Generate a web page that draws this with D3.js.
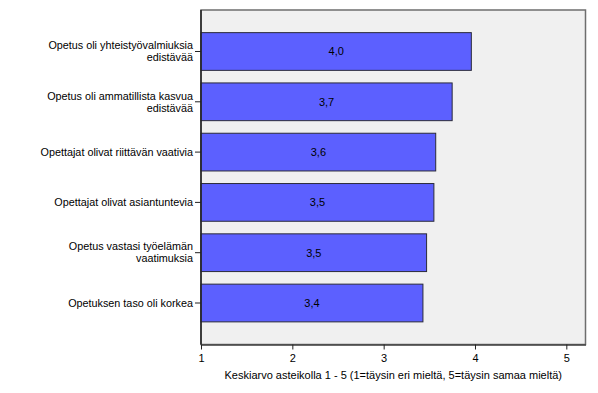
<!DOCTYPE html>
<html>
<head>
<meta charset="utf-8">
<script src="https://cdn.jsdelivr.net/npm/d3@7"></script>
<style>
  body { margin: 0; background: #fff; }
  svg { display: block; font-family: Arial, "Liberation Sans", sans-serif; }
</style>
</head>
<body>
<div id="chart"></div>
<script>
// kysymykset ja keskiarvot
var categories = [
  ["Opetus oli yhteistyövalmiuksia", "edistävää"],
  ["Opetus oli ammatillista kasvua", "edistävää"],
  ["Opettajat olivat riittävän vaativia"],
  ["Opettajat olivat asiantuntevia"],
  ["Opetus vastasi työelämän", "vaatimuksia"],
  ["Opetuksen taso oli korkea"]
];
var means = [3.96, 3.75, 3.57, 3.55, 3.47, 3.43];
var valueLabels = ["4,0", "3,7", "3,6", "3,5", "3,5", "3,4"];
var xTicks = [1, 2, 3, 4, 5];
var xTitle = "Keskiarvo asteikolla 1 - 5 (1=täysin eri mieltä, 5=täysin samaa mieltä)";

var width = 598, height = 393;
var plotLeft = 201, plotRight = 585.5, plotTop = 10, plotBottom = 344.5;

var svg = d3.select('#chart').append('svg')
  .attr('width', width)
  .attr('height', height);

var x = d3.scaleLinear()
  .domain([1, 5.21])
  .range([plotLeft, plotRight]);

var y = d3.scaleBand()
  .domain(d3.range(categories.length))
  .range([plotTop, plotBottom])
  .paddingInner(0.25)
  .paddingOuter(0.45);

// taustakehys
svg.append('rect')
  .attr('x', plotLeft)
  .attr('y', plotTop)
  .attr('width', plotRight - plotLeft)
  .attr('height', plotBottom - plotTop)
  .attr('fill', '#f0f0f0')
  .attr('stroke', '#6e6e6e')
  .attr('stroke-width', 1.5);

var bars = svg.selectAll('.bar')
  .data(means)
  .enter().append('g');

bars.append('rect')
  .attr('x', x(1))
  .attr('y', function (d, i) { return y(i); })
  .attr('width', function (d) { return x(d) - x(1); })
  .attr('height', y.bandwidth())
  .attr('fill', '#5c60ff')
  .attr('stroke', '#2b2b3a')
  .attr('stroke-width', 1);

bars.append('text')
  .attr('x', function (d) { return (x(1) + x(d)) / 2; })
  .attr('y', function (d, i) { return y(i) + y.bandwidth() / 2; })
  .attr('dy', '0.35em')
  .attr('text-anchor', 'middle')
  .attr('font-size', 11)
  .attr('fill', '#000')
  .text(function (d, i) { return valueLabels[i]; });

// x-akseli
var xAxis = svg.append('g')
  .attr('transform', 'translate(0,' + plotBottom + ')')
  .call(d3.axisBottom(x).tickValues(xTicks).tickSize(5).tickSizeOuter(0).tickFormat(d3.format('d')));
xAxis.select('.domain').attr('stroke', '#444').attr('stroke-width', 1.5);
xAxis.selectAll('.tick line').attr('stroke', '#222');
xAxis.selectAll('.tick text').attr('font-size', 11).attr('fill', '#000').attr('font-family', null).attr('y', 10);

svg.append('text')
  .attr('x', (plotLeft + plotRight) / 2)
  .attr('y', 379)
  .attr('text-anchor', 'middle')
  .attr('font-size', 11)
  .attr('fill', '#000')
  .text(xTitle);

// y-akseli
svg.append('line')
  .attr('x1', plotLeft).attr('x2', plotLeft)
  .attr('y1', plotTop).attr('y2', plotBottom)
  .attr('stroke', '#222').attr('stroke-width', 1.5);

var yTicks = svg.selectAll('.ytick')
  .data(categories)
  .enter().append('g')
  .attr('transform', function (d, i) { return 'translate(' + plotLeft + ',' + (y(i) + y.bandwidth() / 2) + ')'; });

yTicks.append('line')
  .attr('x1', -6).attr('x2', 0)
  .attr('stroke', '#222');

yTicks.append('text')
  .attr('text-anchor', 'end')
  .attr('font-size', 10.8)
  .attr('fill', '#000')
  .each(function (d) {
    var t = d3.select(this);
    var n = d.length;
    d.forEach(function (line, k) {
      t.append('tspan')
        .attr('x', -8)
        .attr('y', (k - (n - 1) / 2) * 12)
        .attr('dy', '0.35em')
        .text(line);
    });
  });
</script>
</body>
</html>
